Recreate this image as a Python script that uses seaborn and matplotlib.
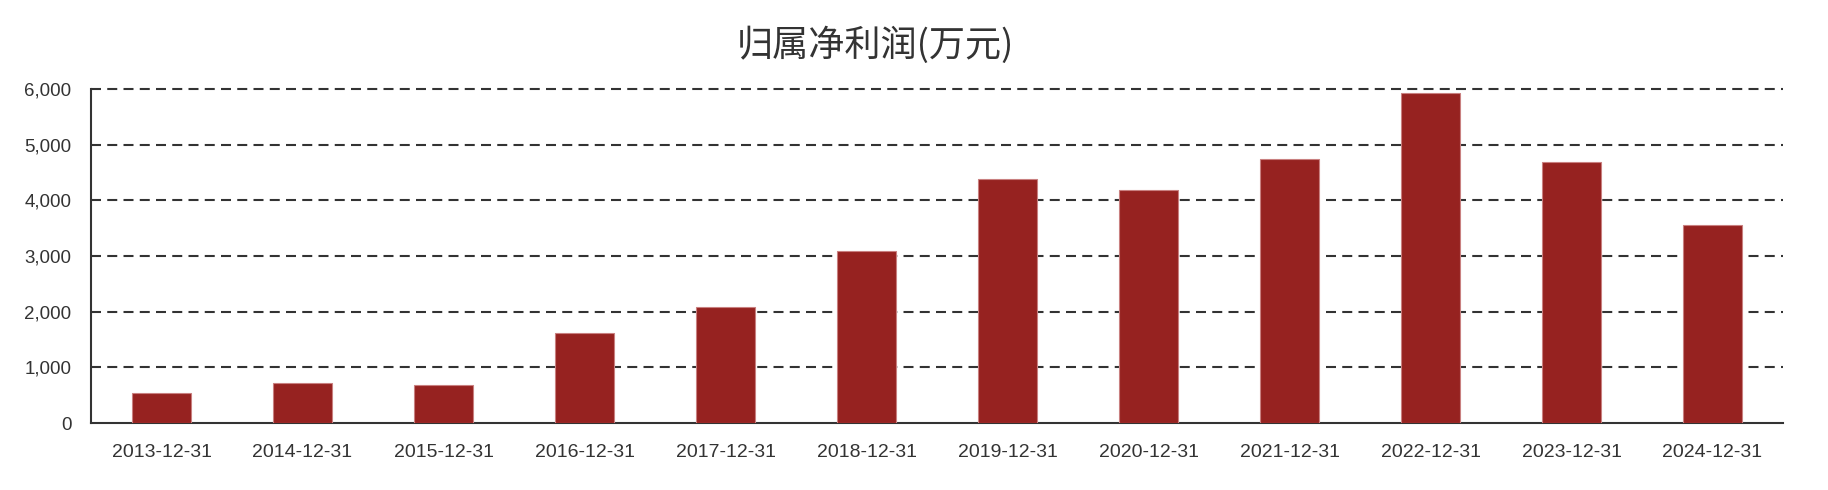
import seaborn as sns
import numpy as np
import pandas as pd
import matplotlib
matplotlib.use('Agg')
import matplotlib.pyplot as plt
from matplotlib.ticker import FuncFormatter

# data
dates = ['2013-12-31', '2014-12-31', '2015-12-31', '2016-12-31', '2017-12-31', '2018-12-31',
         '2019-12-31', '2020-12-31', '2021-12-31', '2022-12-31', '2023-12-31', '2024-12-31']
profit = [539, 719, 689, 1623, 2078, 3084, 4389, 4180, 4743, 5922, 4689, 3564]
title = '归属净利润(万元)'

sns.set_style('white')
plt.rcParams['font.family'] = ['Liberation Sans', 'Noto Sans CJK SC', 'DejaVu Sans']

df = pd.DataFrame({'date': dates, 'profit': profit})

fig = plt.figure(figsize=(18.28, 4.9), dpi=100)
ax = fig.add_axes([0.0498, 0.1367, 0.9256, 0.6817])

sns.barplot(data=df, x='date', y='profit', order=dates, color='#962220',
            saturation=1, width=0.425, edgecolor='#c98080', linewidth=0.8, ax=ax, zorder=3)

ax.set_ylim(0, 6000)
ax.set_yticks(np.arange(0, 6001, 1000))
ax.yaxis.set_major_formatter(FuncFormatter(lambda v, p: f'{int(v):,}'))
ax.set_xlabel('')
ax.set_ylabel('')

for y in np.arange(1000, 6001, 1000):
    ax.axhline(y, color='#333333', lw=1.5, ls=(0, (4.8, 3)), zorder=1, clip_on=False)

sns.despine(ax=ax, top=True, right=True)
for s in ['left', 'bottom']:
    ax.spines[s].set_color('#333333')
    ax.spines[s].set_linewidth(1.5)

ax.tick_params(axis='x', length=0, pad=15, labelsize=14, colors='#333333')
ax.tick_params(axis='y', length=0, pad=14, labelsize=13.5, colors='#333333')

fig.text(0.479, 0.908, title, ha='center', va='center', fontsize=26,
         color='#333333', family=['Noto Sans CJK SC', 'DejaVu Sans'])

fig.savefig('out.png', dpi=100)
